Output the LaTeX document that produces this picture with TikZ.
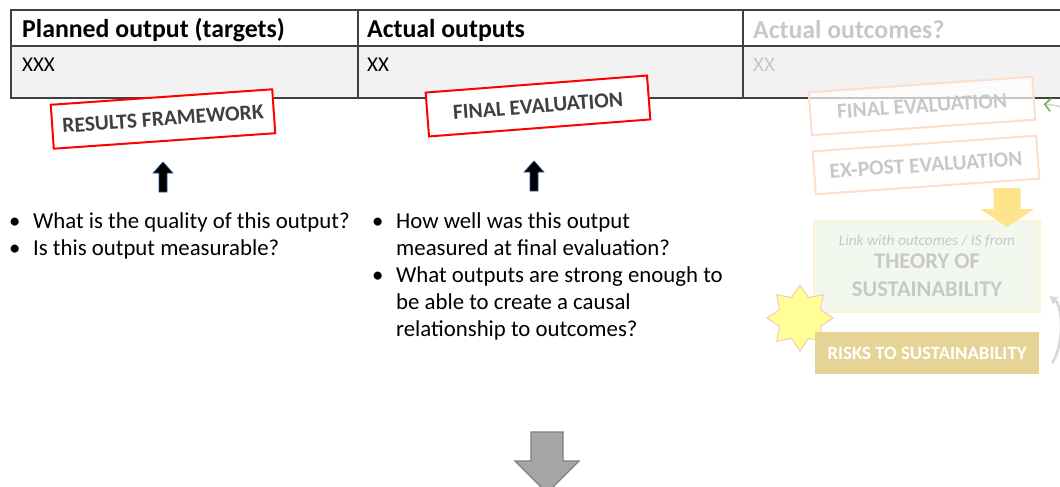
\documentclass[tikz,border=0pt]{standalone}
\usepackage{fontspec}
\setmainfont{Carlito}
\usepackage{tikz}
\usetikzlibrary{arrows.meta,positioning,shapes.geometric}
\definecolor{tableline}{RGB}{64,64,64}
\definecolor{rowgray}{RGB}{242,242,242}
\definecolor{stampred}{RGB}{255,0,0}
\definecolor{stamptext}{RGB}{64,64,64}
\definecolor{fadepeach}{RGB}{251,222,205}
\definecolor{fadetext}{RGB}{200,200,200}
\definecolor{theoryfill}{RGB}{243,248,239}
\definecolor{theoryline}{RGB}{255,242,204}
\definecolor{arrowyellow}{RGB}{255,228,140}
\definecolor{starfill}{RGB}{255,255,150}
\definecolor{starline}{RGB}{248,203,173}
\definecolor{riskfill}{RGB}{230,212,150}
\definecolor{bigarrowfill}{RGB}{166,166,166}
\definecolor{bigarrowline}{RGB}{127,127,127}
\definecolor{arrowblue}{RGB}{47,85,151}
\definecolor{fadegreen}{RGB}{112,173,71}
\definecolor{fadegray}{RGB}{215,215,215}
\newcommand{\bul}{\makebox[24pt][l]{\textbullet}}
\newcommand{\ind}{\hspace*{24pt}}

\begin{document}
\begin{tikzpicture}[x=1pt,y=-1pt,>=Latex,
  headtext/.style={anchor=west, inner sep=0pt, font=\fontsize{25.8}{30}\selectfont\bfseries},
  celltext/.style={anchor=west, inner sep=0pt, font=\fontsize{21}{25}\selectfont},
  stampbox/.style={draw=stampred, line width=2pt, fill=white, text=stamptext,
    minimum width=222pt, minimum height=44pt,
    font=\fontsize{21.5}{25}\selectfont\bfseries},
  fadebox/.style={draw=fadepeach, line width=2pt, fill=white, fill opacity=0.7,
    text opacity=1, text=fadetext, minimum width=224pt, minimum height=43pt, rotate=4,
    font=\fontsize{21.5}{25}\selectfont\bfseries},
  qlist/.style={anchor=north west, inner sep=0pt, align=left,
    font=\fontsize{22.8}{27}\selectfont},
  blockup/.style={fill=black, draw=arrowblue, line width=0.6pt, line join=miter}]
\clip (0,0) rectangle (1060,487);
\fill[white] (0,0) rectangle (1060,487);

% results table
\draw[tableline, line width=1.2pt, fill=rowgray] (11,46) rectangle (1075,98);
\draw[tableline, line width=1.2pt] (11,10) rectangle (1075,46);
\draw[tableline, line width=1.2pt] (358,10) -- (358,98) (743,10) -- (743,98);
\node[headtext] (hplanned) at (22,30) {Planned output (targets)};
\node[headtext] (hactual) at (367,30) {Actual outputs};
\node[headtext, text=fadetext] (houtcome) at (753,30) {Actual outcomes?};
\node[celltext] (vplanned) at (22,65) {XXX};
\node[celltext] (vactual) at (367,65) {XX};
\node[celltext, text=fadetext] (voutcome) at (753,65) {XX};

% stamps
\node[stampbox, rotate=4] (results) at (163,119) {RESULTS FRAMEWORK};
\node[stampbox, rotate=4.4] (finaleval) at (538,106) {FINAL EVALUATION};

\coordinate (upresults) at (163,192);
\coordinate (upfinal) at (534,191);
\filldraw[blockup] (upresults) ++(-4,0) -- ++(0,-19) -- ++(-6,0) -- ++(10,-11)
  -- ++(10,11) -- ++(-6,0) -- ++(0,19) -- cycle;
\filldraw[blockup] (upfinal) ++(-4,0) -- ++(0,-19) -- ++(-6,0) -- ++(10,-11)
  -- ++(10,11) -- ++(-6,0) -- ++(0,19) -- cycle;

% questions
\node[qlist] (qplanned) at (9,212) {\bul What is the quality of this output?\\
  \bul Is this output measurable?};
\node[qlist] (qactual) at (372,212) {\bul How well was this output\\
  \ind measured at final evaluation?\\
  \bul What outputs are strong enough to\\
  \ind be able to create a causal\\
  \ind relationship to outcomes?};

% faded outcome side
\node[fadebox] (fadefinal) at (922,106) {FINAL EVALUATION};
\node[fadebox] (expost) at (926,165) {EX-POST EVALUATION};
\node[draw=theoryline, fill=theoryfill, line width=2pt, minimum width=226pt,
      minimum height=91pt, align=center, text=fadetext,
      font=\fontsize{22.5}{28}\selectfont\bfseries] (theory) at (927,266)
  {{\fontsize{15.3}{18}\selectfont\mdseries\itshape Link with outcomes / IS from}\\[-5pt]
   THEORY OF\\SUSTAINABILITY};
\coordinate (yellowdown) at (1007,188);
\fill[arrowyellow] (yellowdown) ++(-13.5,0) -- ++(0,21) -- ++(-13.5,0) -- ++(27,18)
  -- ++(27,-18) -- ++(-13.5,0) -- ++(0,-21) -- cycle;
\node[star, star points=8, star point ratio=1.5, minimum size=66pt, inner sep=0pt,
      fill=starfill, draw=starline, line width=1pt] (spark) at (800,318) {};
\node[fill=riskfill, minimum width=224pt, minimum height=42pt, text=white,
      font=\fontsize{18.8}{22}\selectfont\bfseries] (risks) at (927,353)
  {RISKS TO SUSTAINABILITY};

\draw[fadegray, line width=2.5pt, -{Latex[length=8pt,width=10pt]}]
  ([shift={(13,10)}]risks.east) .. controls (1064,345) and (1063,306) ..
  ([shift={(8,30)}]theory.east);
\coordinate (offright) at (1078,122);
\draw[fadegray, line width=1.5pt,
  -{Straight Barb[color=fadegreen, length=6pt, width=13pt, line width=1.5pt]}]
  (offright) .. controls (1062,106) .. ([shift={(9,6)}]fadefinal.east);

% next step
\coordinate (nextstep) at (547,432);
\filldraw[fill=bigarrowfill, draw=bigarrowline, line width=1.2pt] (nextstep)
  ++(-16,0) -- ++(0,29) -- ++(-16,0) -- ++(32,32) -- ++(32,-32) -- ++(-16,0)
  -- ++(0,-29) -- cycle;
\end{tikzpicture}
\end{document}
